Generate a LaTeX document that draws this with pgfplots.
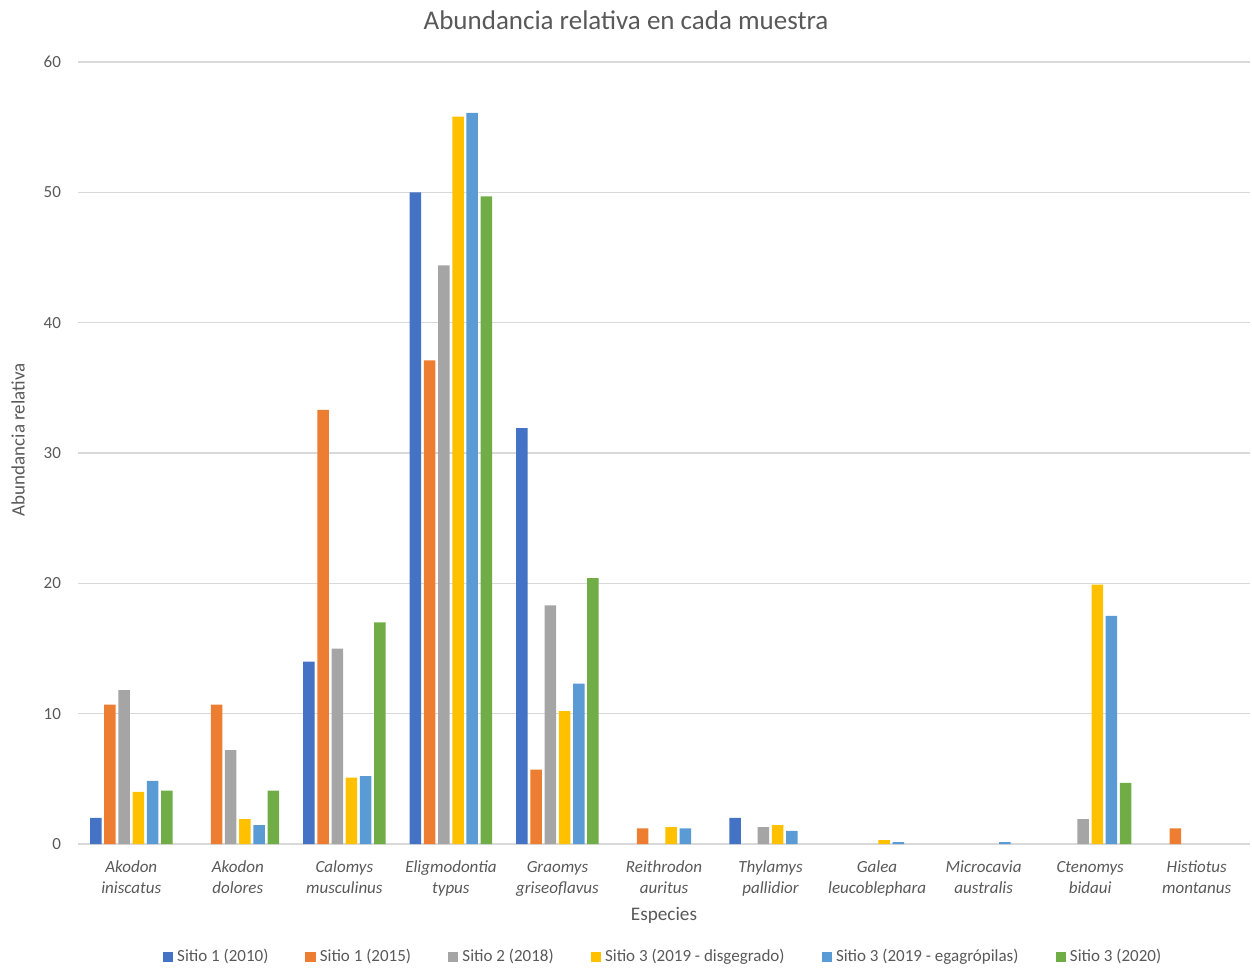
\documentclass[border=0pt]{standalone}
\usepackage{pgfplots}
\pgfplotsset{compat=1.18}
\usepackage{fontspec}
\setmainfont{Carlito}

\definecolor{cA}{HTML}{4472C4}
\definecolor{cB}{HTML}{ED7D31}
\definecolor{cC}{HTML}{A5A5A5}
\definecolor{cD}{HTML}{FFC000}
\definecolor{cE}{HTML}{5B9BD5}
\definecolor{cF}{HTML}{70AD47}
\definecolor{txt}{HTML}{595959}
\definecolor{grd}{HTML}{D9D9D9}

\begin{document}
\begin{tikzpicture}
\path[use as bounding box] (-39pt,-63pt) rectangle (587pt,422pt);
\begin{axis}[
  at={(0,0)}, anchor=south west,
  scale only axis,
  width=586pt, height=391pt,
  ybar=1.35pt, bar width=5.75pt,
  xmin=-0.5, xmax=10.5,
  ymin=0, ymax=60,
  ytick={0,10,...,60},
  xtick={0,...,10},
  xticklabels={{Akodon\\iniscatus},{Akodon\\dolores},{Calomys\\musculinus},{Eligmodontia\\typus},{Graomys\\griseoflavus},{Reithrodon\\auritus},{Thylamys\\pallidior},{Galea\\leucoblephara},{Microcavia\\australis},{Ctenomys\\bidaui},{Histiotus\\montanus}},
  xticklabel style={align=center, font=\fontsize{8.5}{10.5}\selectfont\itshape, text=txt, anchor=north, yshift=-5pt},
  yticklabel style={font=\fontsize{8.5}{10}\selectfont, text=txt, xshift=-5pt},
  /pgf/number format/assume math mode=true,
  major tick length=0pt,
  axis line style={draw=none},
  ymajorgrids, grid style={grd, line width=0.6pt},
  title={Abundancia relativa en cada muestra},
  title style={at={(axis description cs:0.4676,1)}, anchor=center, yshift=15pt, font=\fontsize{13.5}{15}\selectfont, text=txt},
  xlabel={Especies},
  xlabel style={at={(axis description cs:0.5,0)}, anchor=center, yshift=-35.5pt, font=\fontsize{9.6}{11}\selectfont, text=txt},
  ylabel={Abundancia relativa},
  ylabel style={at={(axis description cs:-0.0512,0.517)}, anchor=center, font=\fontsize{9.5}{11}\selectfont, text=txt},
  legend style={at={(axis description cs:0.5,0)}, anchor=center, yshift=-56.5pt, draw=none, fill=none,
    legend columns=6, font=\fontsize{8.5}{10}\selectfont, text=txt,
    /tikz/every even column/.append style={column sep=16.5pt}},
  legend cell align=left,
  legend image code/.code={\fill[#1] (0pt,-2.6pt) rectangle (5.2pt,2.6pt);},
]
% Sitio 1 (2010)
\addplot[fill=cA, draw=none] coordinates {(0,2.0) (2,14.0) (3,50.0) (4,31.9) (6,2.0)};
% Sitio 1 (2015)
\addplot[fill=cB, draw=none] coordinates {(0,10.7) (1,10.7) (2,33.3) (3,37.1) (4,5.7) (5,1.2) (10,1.2)};
% Sitio 2 (2018)
\addplot[fill=cC, draw=none] coordinates {(0,11.8) (1,7.2) (2,15.0) (3,44.4) (4,18.3) (6,1.3) (9,1.9)};
% Sitio 3 (2019 - disgegrado)
\addplot[fill=cD, draw=none] coordinates {(0,4.0) (1,1.9) (2,5.1) (3,55.8) (4,10.2) (5,1.3) (6,1.45) (7,0.3) (9,19.9)};
% Sitio 3 (2019 - egagrópilas)
\addplot[fill=cE, draw=none] coordinates {(0,4.85) (1,1.45) (2,5.2) (3,56.1) (4,12.3) (5,1.2) (6,1.0) (7,0.15) (8,0.15) (9,17.5)};
% Sitio 3 (2020)
\addplot[fill=cF, draw=none] coordinates {(0,4.1) (1,4.1) (2,17.0) (3,49.7) (4,20.4) (9,4.7)};
\legend{Sitio 1 (2010), Sitio 1 (2015), Sitio 2 (2018), Sitio 3 (2019 - disgegrado), Sitio 3 (2019 - egagrópilas), Sitio 3 (2020)}
\end{axis}
\end{tikzpicture}
\end{document}
